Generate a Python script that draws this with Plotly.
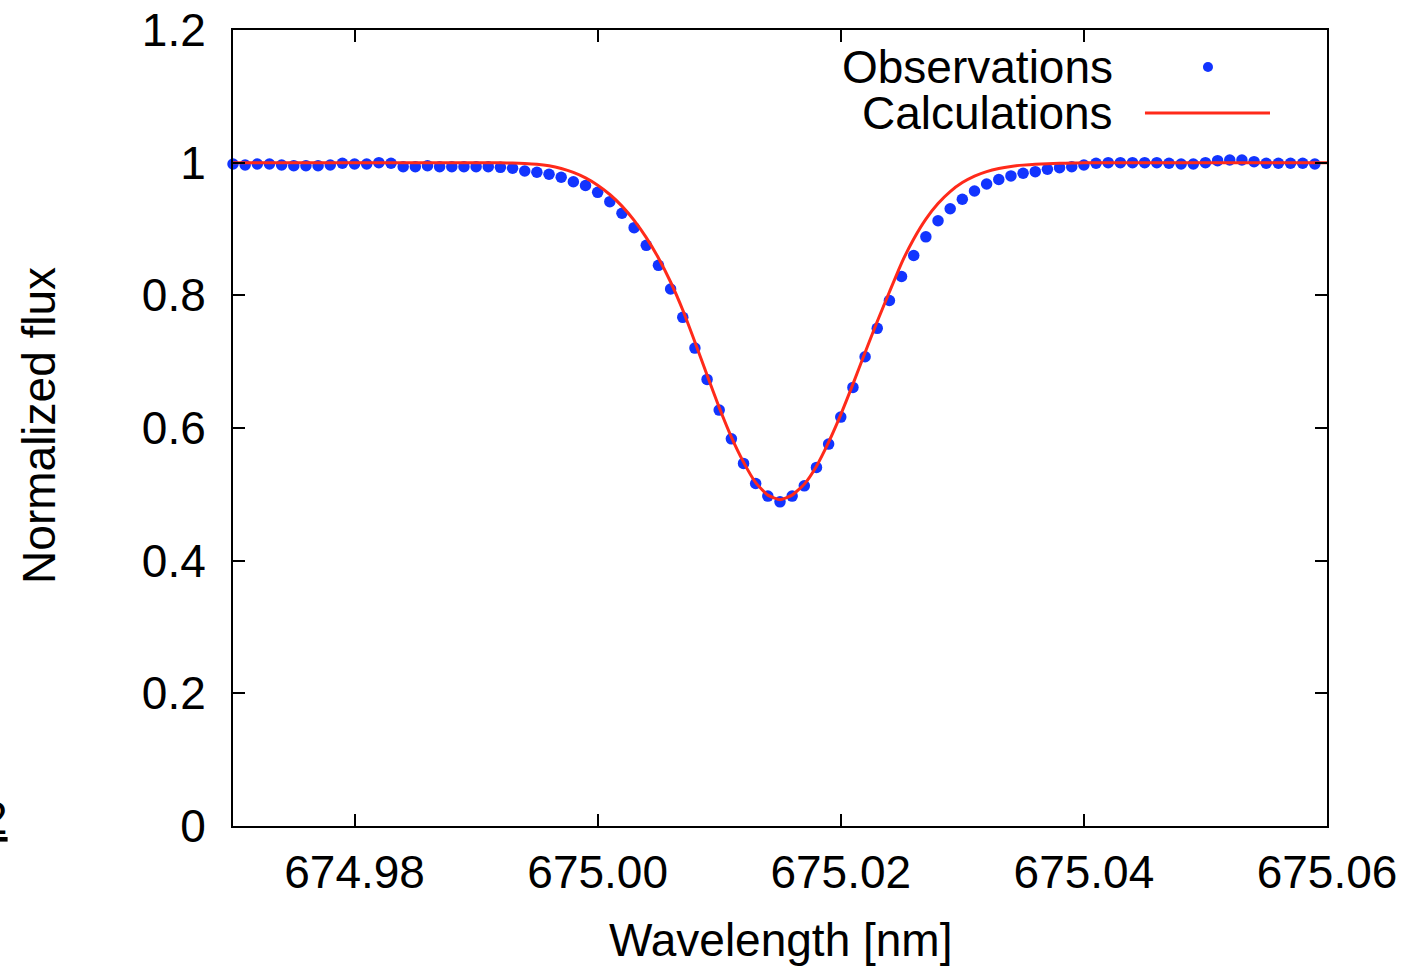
import plotly.graph_objects as go

# ---- data ----
wavelength = [round(674.970 + 0.001 * i, 3) for i in range(90)]

obs_flux = [
    0.9980, 0.9965, 0.9980, 0.9980, 0.9965, 0.9955, 0.9955, 0.9955, 0.9965, 0.9991,
    0.9980, 0.9980, 1.0000, 0.9991, 0.9940, 0.9940, 0.9955, 0.9940, 0.9940, 0.9940,
    0.9940, 0.9940, 0.9930, 0.9915, 0.9875, 0.9855, 0.9825, 0.9780, 0.9713, 0.9656,
    0.9553, 0.9412, 0.9237, 0.9020, 0.8754, 0.8452, 0.8095, 0.7668, 0.7205, 0.6733,
    0.6270, 0.5837, 0.5466, 0.5164, 0.4973, 0.4887, 0.4973, 0.5128, 0.5406, 0.5757,
    0.6164, 0.6612, 0.7074, 0.7502, 0.7922, 0.8284, 0.8600, 0.8882, 0.9125, 0.9306,
    0.9448, 0.9573, 0.9679, 0.9747, 0.9800, 0.9840, 0.9864, 0.9900, 0.9925, 0.9940,
    0.9965, 0.9991, 1.0000, 1.0000, 1.0000, 1.0000, 1.0000, 0.9991, 0.9980, 0.9980,
    1.0000, 1.0030, 1.0041, 1.0041, 1.0015, 0.9991, 0.9991, 0.9991, 0.9991, 0.9980,
]

calc_flux = [
    1.0000, 1.0000, 1.0000, 1.0000, 1.0000, 1.0000, 1.0000, 1.0000, 1.0000, 1.0000,
    1.0000, 1.0000, 1.0000, 1.0000, 1.0000, 1.0000, 1.0000, 1.0000, 1.0000, 1.0000,
    1.0000, 1.0000, 0.9998, 0.9995, 0.9989, 0.9976, 0.9952, 0.9912, 0.9853, 0.9770,
    0.9660, 0.9520, 0.9345, 0.9130, 0.8870, 0.8563, 0.8201, 0.7778, 0.7296, 0.6798,
    0.6308, 0.5863, 0.5486, 0.5176, 0.4988, 0.4920, 0.4988, 0.5154, 0.5425, 0.5787,
    0.6202, 0.6662, 0.7137, 0.7605, 0.8050, 0.8487, 0.8850, 0.9150, 0.9385, 0.9565,
    0.9700, 0.9798, 0.9866, 0.9912, 0.9943, 0.9963, 0.9976, 0.9985, 0.9991, 0.9995,
    0.9998, 1.0000, 1.0000, 1.0000, 1.0000, 1.0000, 1.0000, 1.0000, 1.0000, 1.0000,
    1.0000, 1.0000, 1.0000, 1.0000, 1.0000, 1.0000, 1.0000, 1.0000, 1.0000, 1.0000,
]
calc_wavelength = wavelength[:] + [675.060]
calc_flux = calc_flux + [1.0000]

x_ticks = [674.98, 675.00, 675.02, 675.04, 675.06]
y_ticks = [0, 0.2, 0.4, 0.6, 0.8, 1.0, 1.2]
y_tick_text = ["0", "0.2", "0.4", "0.6", "0.8", "1", "1.2"]

BLUE = "#1234ff"
RED = "#ff2a1a"
FONT = "Liberation Sans, Arial, Helvetica, sans-serif"
FS = 46

fig = go.Figure()
fig.add_trace(go.Scatter(
    x=wavelength, y=obs_flux, mode="markers",
    marker=dict(color=BLUE, size=11.5, line=dict(width=0)),
    name="Observations", showlegend=False, cliponaxis=False,
))
fig.add_trace(go.Scatter(
    x=calc_wavelength, y=calc_flux, mode="lines",
    line=dict(color=RED, width=3, shape="spline", smoothing=0.5),
    name="Calculations", showlegend=False, cliponaxis=False,
))

axis_common = dict(
    showgrid=False, zeroline=False, showline=True, linecolor="black",
    linewidth=2, mirror="ticks", ticks="inside", ticklen=12, tickwidth=1.5,
    tickcolor="black", tickfont=dict(family=FONT, size=FS, color="black"),
)

fig.update_layout(
    width=1420, height=968,
    margin=dict(l=233, r=93, t=30, b=142, autoexpand=False),
    paper_bgcolor="white", plot_bgcolor="white",
    font=dict(family=FONT, size=FS, color="black"),
    xaxis=dict(range=[674.97, 675.06], tickvals=x_ticks, tickformat=".2f",
               ticklabelstandoff=5, **axis_common),
    yaxis=dict(range=[0, 1.2], tickvals=y_ticks, ticktext=y_tick_text,
               ticklabelstandoff=16, **axis_common),
    showlegend=False,
)

# axis titles
fig.add_annotation(text="Wavelength [nm]", xref="paper", yref="paper",
                   x=0.5, y=-0.143, xanchor="center", yanchor="middle",
                   showarrow=False, font=dict(size=FS))
fig.add_annotation(text="Normalized flux", xref="paper", yref="paper",
                   x=-0.178, y=0.503, xanchor="center", yanchor="middle",
                   textangle=-90, showarrow=False, font=dict(size=FS))

# gnuplot-style key (text right-aligned, sample to its right)
fig.add_annotation(text="Observations", xref="paper", yref="paper",
                   x=0.8062, y=0.9535, xanchor="right", yanchor="middle",
                   showarrow=False, font=dict(size=FS))
fig.add_annotation(text="Calculations", xref="paper", yref="paper",
                   x=0.8062, y=0.8957, xanchor="right", yanchor="middle",
                   showarrow=False, font=dict(size=FS))
fig.add_shape(type="circle", xref="paper", yref="paper",
              x0=0.8912 - 5 / 1094, x1=0.8912 + 5 / 1094,
              y0=0.9535 - 5 / 796, y1=0.9535 + 5 / 796,
              fillcolor=BLUE, line=dict(width=0))
fig.add_shape(type="line", xref="paper", yref="paper",
              x0=0.8336, x1=0.9479, y0=0.8957, y1=0.8957,
              line=dict(color=RED, width=3))

# cropped fragment at left edge of the original image
fig.add_annotation(text="<u>2</u>", xref="paper", yref="paper",
                   x=(10 - 233) / 1094, y=(826 - 818) / 796,
                   xanchor="right", yanchor="middle", showarrow=False,
                   font=dict(size=FS, color="black"))

fig.write_html("out.html")
